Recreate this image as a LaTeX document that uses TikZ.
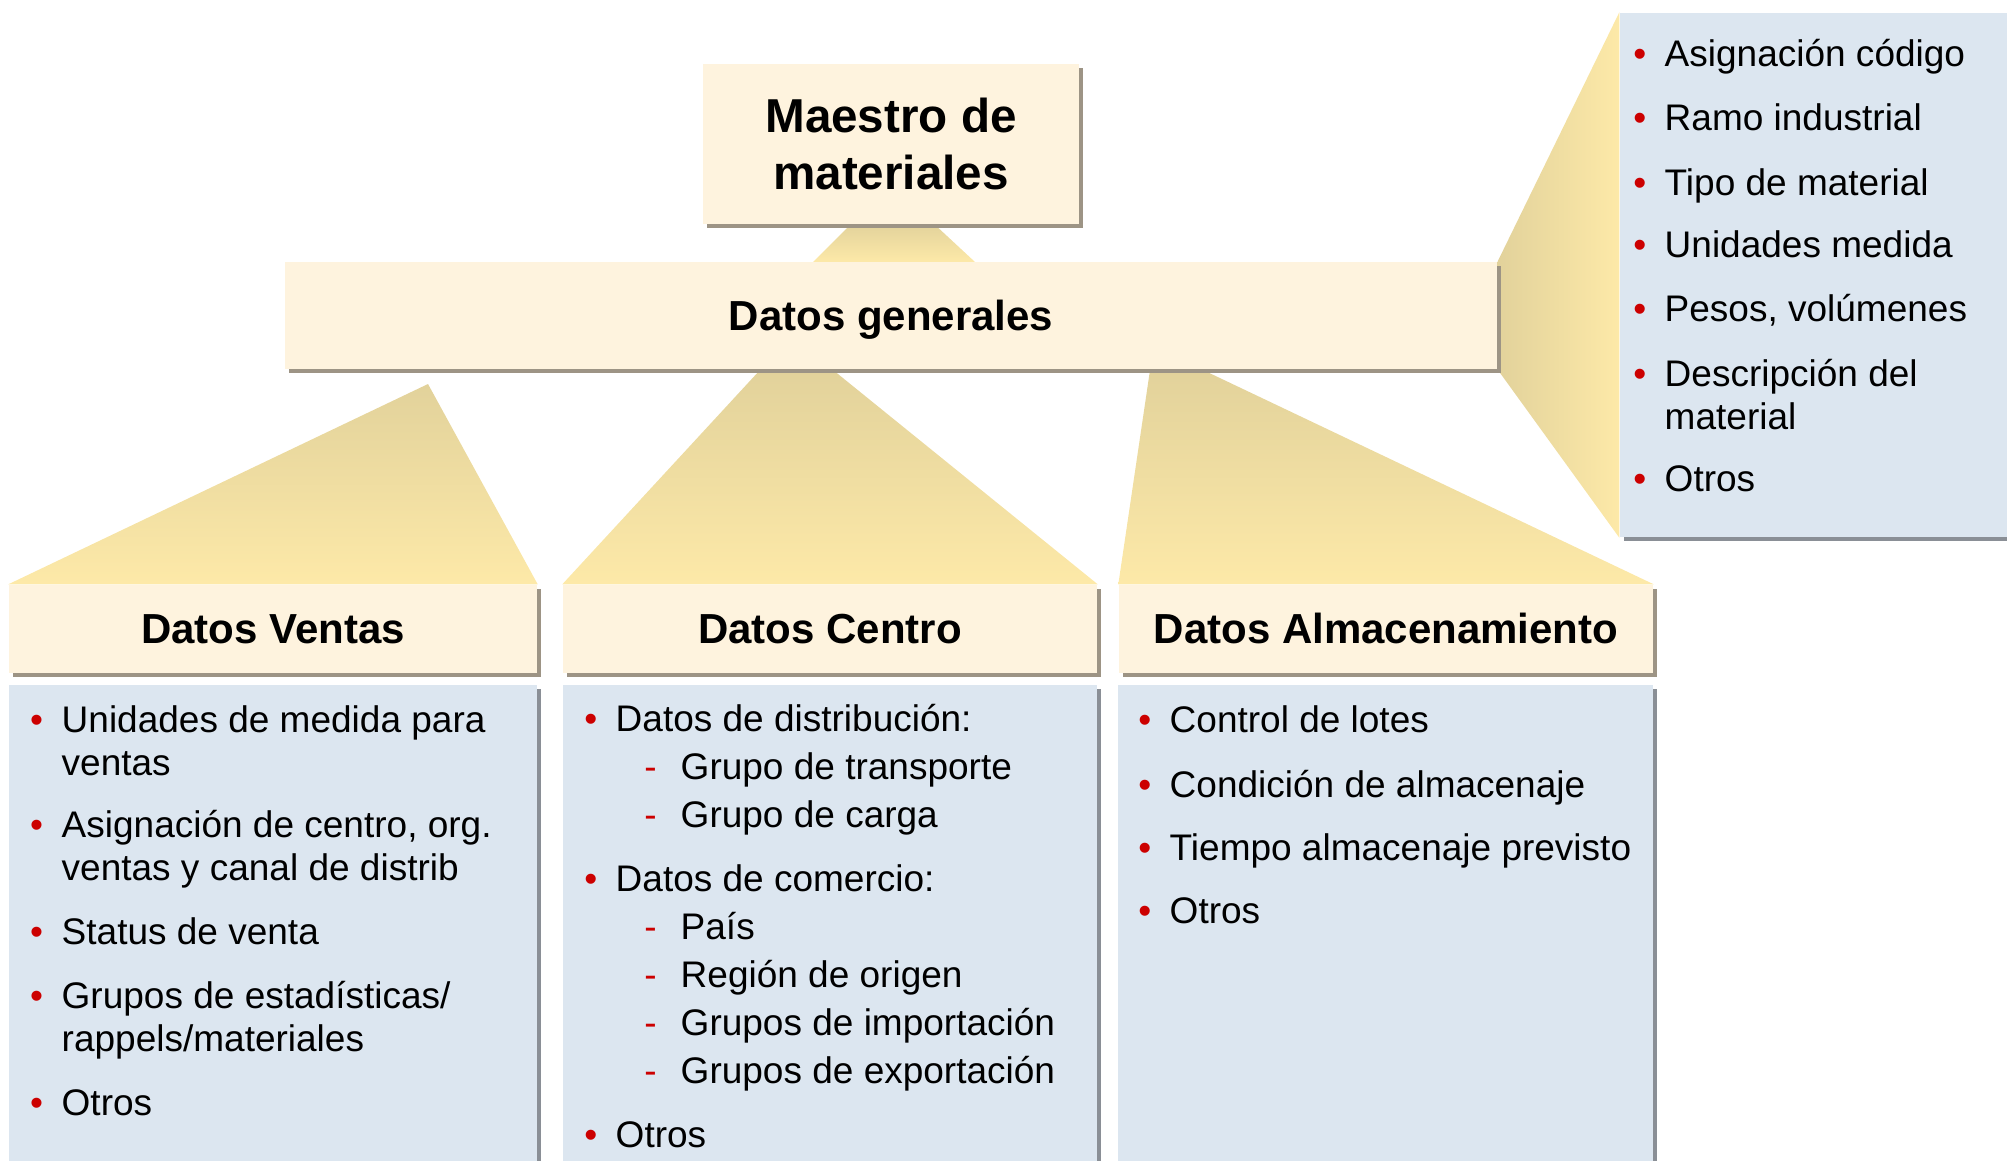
\documentclass[tikz,border=0pt]{standalone}
\usepackage{fontspec}
\setmainfont{Liberation Sans}
\usetikzlibrary{shadows,backgrounds}

\definecolor{boxcream}{HTML}{FEF3DE}
\definecolor{boxshade}{HTML}{9D9485}
\definecolor{listblue}{HTML}{DCE6F0}
\definecolor{listshade}{HTML}{8A8F96}
\definecolor{wedgetop}{HTML}{E2D29B}
\definecolor{wedgebot}{HTML}{FDE9A8}
\definecolor{bulletred}{HTML}{CC0000}

\newcommand{\bul}{\llap{\textcolor{bulletred}{\textbullet}\hspace{0.185cm}}}
\newcommand{\guion}{\llap{\textcolor{bulletred}{-}\hspace{0.24cm}}}

\tikzset{
    box/.style={rectangle, fill=boxcream, inner sep=0pt,
        drop shadow={shadow xshift=0.04cm, shadow yshift=-0.04cm, fill=boxshade, opacity=1}},
    hdr/.style={box, text height=0.84em, text depth=0pt, font=\fontsize{11.95pt}{14pt}\selectfont\bfseries},
    lst/.style={rectangle, fill=listblue, inner sep=0pt,
        drop shadow={shadow xshift=0.04cm, shadow yshift=-0.04cm, fill=listshade, opacity=1}},
    itm/.style={anchor=base west, inner sep=0pt, align=left,
        font=\fontsize{10.53pt}{12.23pt}\selectfont},
    wedge/.style={top color=wedgetop, bottom color=wedgebot},
    sidewedge/.style={left color=wedgetop, right color=wedgebot}
}

\begin{document}
\begin{tikzpicture}
        \useasboundingbox (0,0) rectangle (20.07,-11.60);

        % top boxes
        \node[box, minimum width=3.76cm, minimum height=1.60cm, align=center,
            font=\fontsize{13.54pt}{16.2pt}\selectfont\bfseries] (maestro) at (8.91,-1.44) {Maestro de\\materiales};
        \node[hdr, minimum width=12.12cm, minimum height=1.07cm] (gen) at (8.91,-3.155) {Datos generales};

        % headers
        \node[hdr, minimum width=5.28cm, minimum height=0.88cm] (ventas) at (2.73,-6.29) {Datos Ventas};
        \node[hdr, minimum width=5.34cm, minimum height=0.88cm] (centro) at (8.30,-6.29) {Datos Centro};
        \node[hdr, minimum width=5.34cm, minimum height=0.88cm] (almac) at (13.86,-6.29) {Datos Almacenamiento};

        % list boxes
        \node[lst, minimum width=5.28cm, minimum height=5.15cm] (vlist) at (2.73,-9.425) {};
        \node[lst, minimum width=5.34cm, minimum height=5.15cm] (clist) at (8.30,-9.425) {};
        \node[lst, minimum width=5.35cm, minimum height=5.15cm] (alist) at (13.855,-9.425) {};
        \node[lst, minimum width=4.40cm, minimum height=5.24cm] (glist) at (18.40,-2.75) {};

        % wedges
        \coordinate (mg1) at (8.52,-2.23);
        \coordinate (mg2) at (9.33,-2.23);
        \coordinate (mg3) at (9.75,-2.62);
        \coordinate (mg4) at (8.13,-2.62);
        \coordinate (vtip) at (4.28,-3.84);
        \coordinate (ct1) at (7.60,-3.70);
        \coordinate (ct2) at (8.33,-3.70);
        \coordinate (at1) at (11.50,-3.70);
        \coordinate (at2) at (12.03,-3.70);
        \begin{scope}[on background layer]
            \shade[wedge] (mg1) -- (mg2) -- (mg3) -- (mg4) -- cycle;
            \shade[wedge] (vtip) -- (ventas.north east) -- (ventas.north west) -- cycle;
            \shade[wedge] (ct1) -- (ct2) -- (centro.north east) -- (centro.north west) -- cycle;
            \shade[wedge] (at1) -- (at2) -- (almac.north east) -- (almac.north west) -- cycle;
            \shade[sidewedge] (gen.north east) -- (glist.north west) -- (glist.south west) -- (gen.south east) -- cycle;
        \end{scope}

        % Datos generales
        \node[itm] (g1) at (16.64,-0.66) {\bul Asignación código};
        \node[itm] (g2) at (16.64,-1.30) {\bul Ramo industrial};
        \node[itm] (g3) at (16.64,-1.95) {\bul Tipo de material};
        \node[itm] (g4) at (16.64,-2.57) {\bul Unidades medida};
        \node[itm] (g5) at (16.64,-3.21) {\bul Pesos, volúmenes};
        \node[itm] (g6) at (16.64,-4.29) {\bul Descripción del\\material};
        \node[itm] (g7) at (16.64,-4.91) {\bul Otros};

        % Datos Ventas
        \node[itm] (v1) at (0.61,-7.75) {\bul Unidades de medida para\\ventas};
        \node[itm] (v2) at (0.61,-8.80) {\bul Asignación de centro, org.\\ventas y canal de distrib};
        \node[itm] (v3) at (0.61,-9.44) {\bul Status de venta};
        \node[itm] (v4) at (0.61,-10.51) {\bul Grupos de estadísticas/\\rappels/materiales};
        \node[itm] (v5) at (0.61,-11.15) {\bul Otros};

        % Datos Centro
        \node[itm] (c1) at (6.15,-7.31) {\bul Datos de distribución:};
        \node[itm] (c2) at (6.80,-7.79) {\guion Grupo de transporte};
        \node[itm] (c3) at (6.80,-8.27) {\guion Grupo de carga};
        \node[itm] (c4) at (6.15,-8.91) {\bul Datos de comercio:};
        \node[itm] (c5) at (6.80,-9.39) {\guion País};
        \node[itm] (c6) at (6.80,-9.87) {\guion Región de origen};
        \node[itm] (c7) at (6.80,-10.35) {\guion Grupos de importación};
        \node[itm] (c8) at (6.80,-10.83) {\guion Grupos de exportación};
        \node[itm] (c9) at (6.15,-11.47) {\bul Otros};

        % Datos Almacenamiento
        \node[itm] (a1) at (11.69,-7.32) {\bul Control de lotes};
        \node[itm] (a2) at (11.69,-7.97) {\bul Condición de almacenaje};
        \node[itm] (a3) at (11.69,-8.60) {\bul Tiempo almacenaje previsto};
        \node[itm] (a4) at (11.69,-9.23) {\bul Otros};
    \end{tikzpicture}
\end{document}
